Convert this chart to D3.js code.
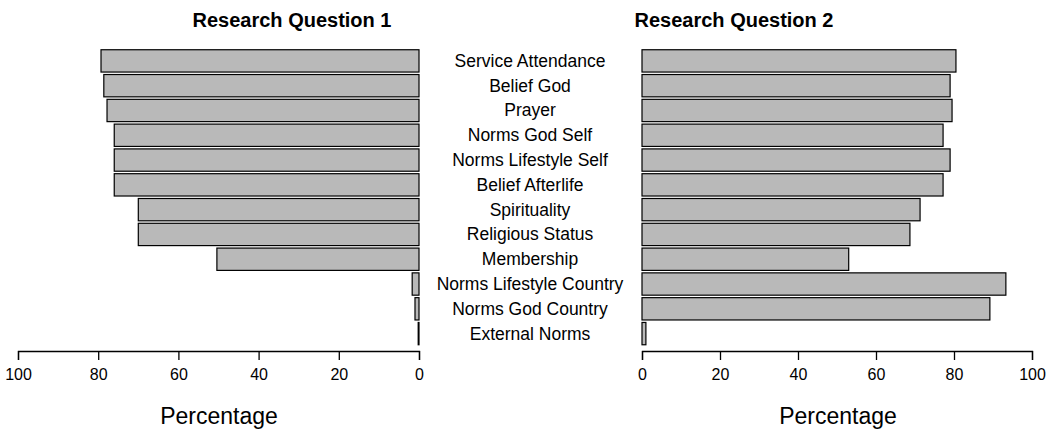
<!DOCTYPE html>
<html><head><meta charset="utf-8">
<script src="https://cdn.jsdelivr.net/npm/d3@7"></script>
<style>body{margin:0;background:#fff}svg{font-family:"Liberation Sans",Arial,sans-serif}</style>
</head><body>
<script>
var categories = ["Service Attendance","Belief God","Prayer","Norms God Self","Norms Lifestyle Self","Belief Afterlife","Spirituality","Religious Status","Membership","Norms Lifestyle Country","Norms God Country","External Norms"];
var rq1 = [79.3,78.6,77.8,76,76,76,70,70,50.4,1.7,1,0.2];
var rq2 = [80.5,79,79.5,77.2,79,77.2,71.3,68.7,53,93.3,89.2,1];
var ticks = [0,20,40,60,80,100];

var svg = d3.select("body").append("svg").attr("width",1054).attr("height",433);

var y = d3.scaleBand().domain(categories).range([48.5,346]).paddingInner(0.1).paddingOuter(0.05);
var xl = d3.scaleLinear().domain([0,100]).range([419,18]);
var xr = d3.scaleLinear().domain([0,100]).range([642,1032]);

function panel(data, x, left, title, cx, px){
  svg.append("g").selectAll("rect").data(data).enter().append("rect")
    .attr("x", function(d){ return left ? x(d) : x(0); })
    .attr("width", function(d){ return Math.abs(x(d)-x(0)); })
    .attr("y", function(d,i){ return y(categories[i]); })
    .attr("height", y.bandwidth())
    .attr("fill","#b9b9b9").attr("stroke","#000").attr("stroke-width",1.2);
  var ax = svg.append("g").attr("transform","translate(0,351)")
    .call(d3.axisBottom(x).tickValues(ticks).tickSize(9).tickPadding(9));
  ax.select(".domain").attr("stroke-width",1.3);
  ax.selectAll("line").attr("stroke-width",1.3);
  ax.selectAll("text").style("font-size","16px").attr("fill","#000");
  svg.append("text").attr("x",cx).attr("y",27).attr("text-anchor","middle")
    .style("font-size","20px").style("font-weight","bold").text(title);
  svg.append("text").attr("x",px).attr("y",424).attr("text-anchor","middle")
    .style("font-size","23px").text("Percentage");
}
panel(rq1, xl, true, "Research Question 1", 292, 219);
panel(rq2, xr, false, "Research Question 2", 734, 838);

svg.append("g").selectAll("text").data(categories).enter().append("text")
  .attr("x",530).attr("y", function(d){ return y(d)+y.bandwidth()/2+6; })
  .attr("text-anchor","middle").style("font-size","17.5px").text(function(d){ return d; });
</script>
</body></html>
